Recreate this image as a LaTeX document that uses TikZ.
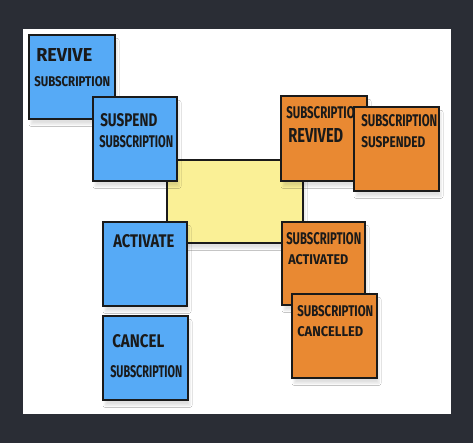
\documentclass[tikz,border=0pt]{standalone}
\usepackage{fontspec}
\usepackage{graphicx}
\setmainfont{Fira Sans}
\usetikzlibrary{fit,shadows.blur}

\definecolor{boardbg}{RGB}{42,45,53}
\definecolor{cmdblue}{RGB}{86,170,246}
\definecolor{evtorange}{RGB}{233,137,50}
\definecolor{aggyellow}{RGB}{250,240,150}
\definecolor{marker}{RGB}{26,26,26}

% hand-lettered caption squeezed into a box of given width and height (px)
\newcommand\penword[3]{\resizebox{#1\dimexpr0.75pt\relax}{#2\dimexpr0.75pt\relax}{\bfseries #3}}

\tikzset{
  note/.style={draw=marker, line width=1.3pt, inner sep=0pt,
    blur shadow={shadow xshift=1.5pt, shadow yshift=-4pt, shadow opacity=12, shadow blur steps=6, shadow blur radius=1.5pt}},
  cmd/.style={note, fill=cmdblue},
  evt/.style={note, fill=evtorange},
  agg/.style={note, fill=aggyellow},
  word/.style={anchor=south west, inner sep=0pt, text=marker}
}

\begin{document}
\begin{tikzpicture}[x=0.75pt, y=-0.75pt]
  % board and whiteboard
  \fill[boardbg] (0,0) rectangle (473,443);
  \useasboundingbox (0,0) rectangle (473,443);
  \fill[white] (23,29) rectangle (451,414);

  % aggregate in the middle
  \node[agg, fit={(167,160) (303,243)}] (aggregate) {};

  % commands
  \node[cmd, fit={(29,35) (115,119)}] (revive) {};
  \node[word] (revive-a) at (36,62) {\penword{56}{13}{REVIVE}};
  \node[word] (revive-b) at (34,87) {\penword{76}{10}{SUBSCRIPTION}};

  \node[cmd, fit={(93,97) (177,181)}] (suspend) {};
  \node[word] (suspend-a) at (100,127) {\penword{57}{13}{SUSPEND}};
  \node[word] (suspend-b) at (99,148) {\penword{74}{12}{SUBSCRIPTION}};

  \node[cmd, fit={(103,222) (187,306)}] (activate) {};
  \node[word] (activate-a) at (113,248) {\penword{61}{13}{ACTIVATE}};

  \node[cmd, fit={(103,316) (188,400)}] (cancel) {};
  \node[word] (cancel-a) at (112,348) {\penword{52}{13}{CANCEL}};
  \node[word] (cancel-b) at (110,378) {\penword{72}{12}{SUBSCRIPTION}};

  % events
  \node[evt, fit={(281,96) (367,181)}] (revived) {};
  \node[word] (revived-a) at (286,119) {\penword{76}{12}{SUBSCRIPTION}};
  \node[word] (revived-b) at (288,143) {\penword{55}{14}{REVIVED}};

  \node[evt, fit={(354,107) (439,191)}] (suspended) {};
  \node[word] (suspended-a) at (361,127) {\penword{76}{12}{SUBSCRIPTION}};
  \node[word] (suspended-b) at (361,148) {\penword{64}{11}{SUSPENDED}};

  \node[evt, fit={(282,222) (365,305)}] (activated) {};
  \node[word] (activated-a) at (286,245) {\penword{75}{12}{SUBSCRIPTION}};
  \node[word] (activated-b) at (288,265) {\penword{60}{10}{ACTIVATED}};

  \node[evt, fit={(292,294) (377,378)}] (cancelled) {};
  \node[word] (cancelled-a) at (297,317) {\penword{76}{11}{SUBSCRIPTION}};
  \node[word] (cancelled-b) at (297,337) {\penword{66}{10}{CANCELLED}};
\end{tikzpicture}
\end{document}
